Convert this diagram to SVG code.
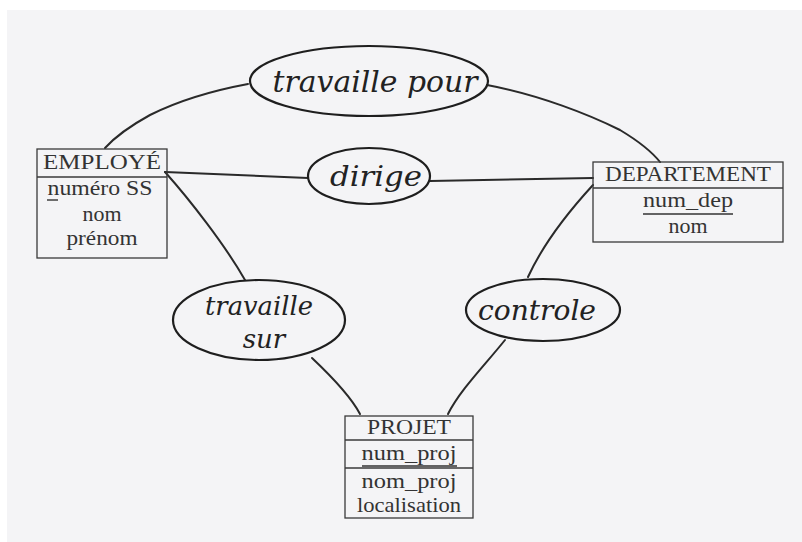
<svg xmlns="http://www.w3.org/2000/svg" width="802" height="542" viewBox="0 0 802 542">
<style>
.line{fill:none;stroke:#2a2a2a;stroke-width:2;stroke-linecap:round}
.ell{fill:none;stroke:#1e1e1e;stroke-width:2.2}
.box{fill:none;stroke:#3a3a3a;stroke-width:1.3}
.t{font-family:"Liberation Serif",serif;font-size:22px;fill:#333;text-anchor:middle}
.h{font-family:"DejaVu Serif","Liberation Serif",serif;font-style:italic;fill:#222;text-anchor:middle}
.ul{stroke:#333;stroke-width:1.4}
</style>
<rect x="0" y="0" width="802" height="542" fill="#ffffff"/>
<rect x="7" y="10" width="795" height="532" fill="#f4f4f6"/>
<g id="connectors">
<path class="line" d="M248,84 C205,92 170,105 150,115 C130,126 115,137 105,148"/>
<path class="line" d="M487,85 C540,95 590,115 620,130 C640,142 652,152 660,162"/>
<path class="line" d="M165,172 L308,178"/>
<path class="line" d="M430,181 L593,178"/>
<path class="line" d="M165,172 C190,200 225,245 245,280"/>
<path class="line" d="M312,358 C330,375 350,395 360,414"/>
<path class="line" d="M593,185 C570,210 545,240 528,277"/>
<path class="line" d="M505,340 C485,365 460,390 448,414"/>
</g>
<g id="travaille-pour">
<ellipse class="ell" cx="369" cy="81" rx="119" ry="35"/>
<text class="h" x="375" y="92" font-size="30" textLength="205" lengthAdjust="spacingAndGlyphs">travaille pour</text>
</g>
<g id="dirige">
<ellipse class="ell" cx="369" cy="176" rx="61" ry="28"/>
<text class="h" x="376" y="186" font-size="28" textLength="92" lengthAdjust="spacingAndGlyphs">dirige</text>
</g>
<g id="travaille-sur">
<ellipse class="ell" cx="259" cy="320" rx="86" ry="40"/>
<text class="h" x="259" y="315" font-size="26" textLength="108" lengthAdjust="spacingAndGlyphs">travaille</text>
<text class="h" x="264" y="348" font-size="26">sur</text>
</g>
<g id="controle">
<ellipse class="ell" cx="543" cy="310" rx="77" ry="31"/>
<text class="h" x="537" y="320" font-size="28" textLength="118" lengthAdjust="spacingAndGlyphs">controle</text>
</g>
<g id="employe">
<rect class="box" x="37" y="149" width="130" height="109"/>
<line class="box" x1="37" y1="177" x2="167" y2="177"/>
<text class="t" x="102" y="169" textLength="118" lengthAdjust="spacingAndGlyphs">EMPLOYÉ</text>
<text class="t" x="100" y="195" textLength="105" lengthAdjust="spacingAndGlyphs">numéro SS</text>
<line class="ul" x1="47" y1="200" x2="58" y2="200"/>
<text class="t" x="102" y="221" textLength="39" lengthAdjust="spacingAndGlyphs">nom</text>
<text class="t" x="102" y="245" textLength="71" lengthAdjust="spacingAndGlyphs">prénom</text>
</g>
<g id="departement">
<rect class="box" x="593" y="162" width="190" height="80"/>
<line class="box" x1="593" y1="188" x2="783" y2="188"/>
<text class="t" x="688" y="181" textLength="166" lengthAdjust="spacingAndGlyphs">DEPARTEMENT</text>
<text class="t" x="688" y="207" textLength="90" lengthAdjust="spacingAndGlyphs">num_dep</text>
<line class="ul" x1="643" y1="214" x2="733" y2="214"/>
<text class="t" x="688" y="233" textLength="39" lengthAdjust="spacingAndGlyphs">nom</text>
</g>
<g id="projet">
<rect class="box" x="345" y="416" width="128" height="102"/>
<line class="box" x1="345" y1="440" x2="473" y2="440"/>
<line class="box" x1="345" y1="468" x2="473" y2="468"/>
<text class="t" x="409" y="434" textLength="84" lengthAdjust="spacingAndGlyphs">PROJET</text>
<text class="t" x="409" y="460" textLength="95" lengthAdjust="spacingAndGlyphs">num_proj</text>
<line class="ul" x1="362" y1="466" x2="457" y2="466"/>
<text class="t" x="409" y="488" textLength="95" lengthAdjust="spacingAndGlyphs">nom_proj</text>
<text class="t" x="409" y="512" textLength="104" lengthAdjust="spacingAndGlyphs">localisation</text>
</g>
</svg>
